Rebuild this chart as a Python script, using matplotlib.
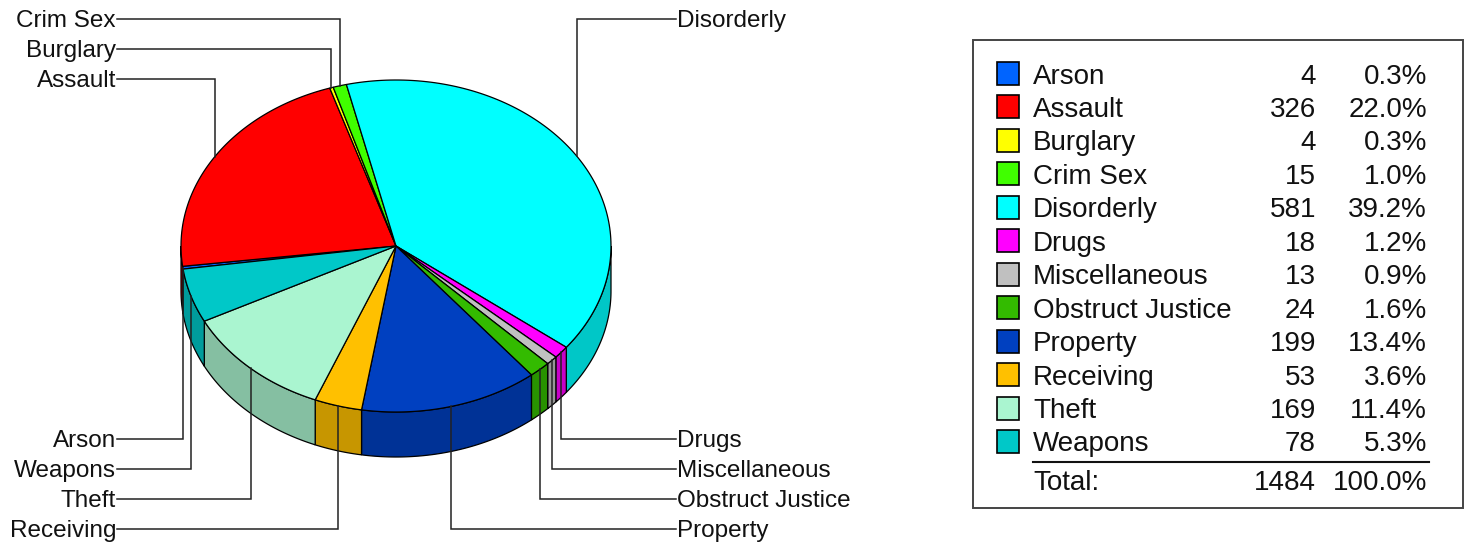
import numpy as np
import matplotlib.pyplot as plt
from matplotlib.patches import Polygon, Rectangle
from matplotlib.colors import to_rgb

categories = ["Arson", "Assault", "Burglary", "Crim Sex", "Disorderly", "Drugs",
              "Miscellaneous", "Obstruct Justice", "Property", "Receiving", "Theft", "Weapons"]
counts = [4, 326, 4, 15, 581, 18, 13, 24, 199, 53, 169, 78]
colors = ["#0064ff", "#ff0000", "#ffff00", "#40ff00", "#00ffff", "#ff00ff",
          "#c0c0c0", "#33bb00", "#0040c0", "#ffc000", "#aaf5d0", "#00c8c8"]

plt.rcParams["font.family"] = ["Liberation Sans", "DejaVu Sans"]

fig = plt.figure(figsize=(14.66, 5.46), dpi=100)
ax = fig.add_axes([0, 0, 1, 1])
ax.set_xlim(0, 1466)
ax.set_ylim(546, 0)
ax.axis("off")

# pie geometry (pixels)
cx, cy = 396, 246
rx, ry = 215, 166
depth = 45
start = 188

total = sum(counts)
fracs = np.array(counts) / total
bounds = start - 360 * np.concatenate([[0], np.cumsum(fracs)])


def pt(t, drop=0):
    r = np.radians(t)
    return cx + rx * np.cos(r), cy - ry * np.sin(r) + drop


def darker(c, f=0.78):
    return tuple(v * f for v in to_rgb(c))


# side walls (only the front half is visible)
for i, c in enumerate(colors):
    hi, lo = bounds[i], bounds[i + 1]
    for k in (-1, 0):
        a = max(lo, 180 + 360 * k)
        b = min(hi, 360 + 360 * k)
        if b > a:
            t = np.linspace(a, b, 80)
            xs, ys = pt(t)
            px = np.concatenate([xs, xs[::-1]])
            py = np.concatenate([ys, ys[::-1] + depth])
            ax.add_patch(Polygon(np.column_stack([px, py]), closed=True,
                                 fc=darker(c), ec="black", lw=0.9))

# top faces
for i, c in enumerate(colors):
    t = np.linspace(bounds[i], bounds[i + 1], 120)
    xs, ys = pt(t)
    px = np.concatenate([[cx], xs])
    py = np.concatenate([[cy], ys])
    ax.add_patch(Polygon(np.column_stack([px, py]), closed=True,
                         fc=c, ec="black", lw=0.9))

# leader lines and labels
mids = (bounds[:-1] + bounds[1:]) / 2
anc = [pt(m) for m in mids]

groups = {}
for i, m in enumerate(mids):
    side = "L" if np.cos(np.radians(m)) < 0 else "R"
    half = "T" if np.sin(np.radians(m)) >= 0 else "B"
    groups.setdefault(side + half, []).append(i)

label_pos = {}
for key, idx in groups.items():
    if key[1] == "T":
        idx = sorted(idx, key=lambda j: anc[j][1])
        for n, j in enumerate(idx):
            label_pos[j] = 19 + 30 * n
    else:
        idx = sorted(idx, key=lambda j: -anc[j][1])
        for n, j in enumerate(idx):
            label_pos[j] = 529 - 30 * n

for i, name in enumerate(categories):
    x, y = anc[i]
    ly = label_pos[i]
    if np.cos(np.radians(mids[i])) < 0:
        lx = 117
        ax.text(lx - 1, ly + 8, name, ha="right", va="baseline", fontsize=17.5, color="#111")
    else:
        lx = 676
        ax.text(lx + 1, ly + 8, name, ha="left", va="baseline", fontsize=17.5, color="#111")
    ax.plot([x, x, lx], [y, ly, ly], color="#222", lw=1.1, solid_joinstyle="miter", zorder=3)

# legend table
ax.add_patch(Rectangle((973, 40), 490, 468, fc="white", ec="#444", lw=1.4))
row0, step = 73.5, 33.45
for i, name in enumerate(categories):
    y = row0 + step * i
    ax.add_patch(Rectangle((997, y - 11.5), 22, 23, fc=colors[i], ec="black", lw=1.2))
    ax.text(1033, y + 10, name, ha="left", va="baseline", fontsize=20, color="#111")
    ax.text(1316, y + 10, str(counts[i]), ha="right", va="baseline", fontsize=20, color="#111")
    ax.text(1427, y + 10, f"{100 * counts[i] / total:.1f}%", ha="right", va="baseline",
            fontsize=20, color="#111")

ax.plot([1033, 1429], [462, 462], color="#111", lw=1.5)
yt = 480
ax.text(1033, yt + 10, "Total:", ha="left", va="baseline", fontsize=20, color="#111")
ax.text(1316, yt + 10, str(total), ha="right", va="baseline", fontsize=20, color="#111")
ax.text(1427, yt + 10, "100.0%", ha="right", va="baseline", fontsize=20, color="#111")

fig.savefig("out.png", dpi=100, facecolor="white")
